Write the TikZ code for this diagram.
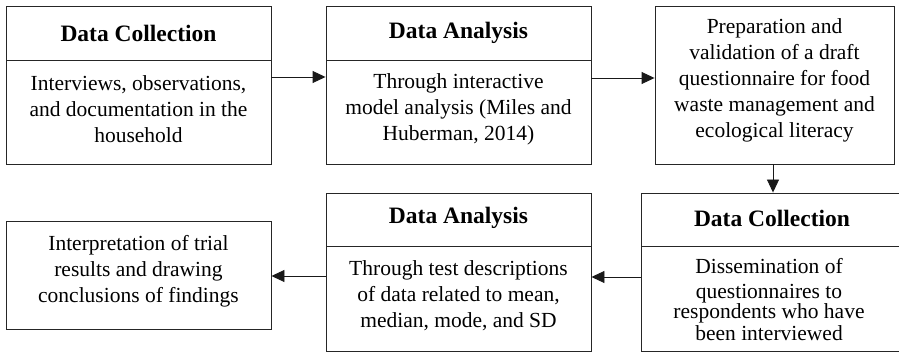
\documentclass[tikz,border=0pt]{standalone}
\usepackage{fontspec}
\setmainfont{Liberation Serif}
\usetikzlibrary{arrows.meta}
\begin{document}
\begin{tikzpicture}[x=1pt,y=-1pt,
  box/.style={draw=black!85,line width=0.9pt,rectangle,inner sep=0pt,minimum width=265pt},
  ttl/.style={font=\fontsize{23.5}{28}\selectfont\bfseries,inner sep=0pt},
  body/.style={font=\fontsize{21.5}{26}\selectfont,align=center,inner sep=0pt},
  div/.style={draw=black!85,line width=0.9pt},
  arr/.style={draw=black!90,line width=0.9pt,-{Triangle[length=13pt,width=12pt]}}]
\useasboundingbox (0,0) rectangle (899,352);
\clip (0,0) rectangle (899,352);
% top row
\node[box,minimum height=158pt] (b1) at (138.5,85) {};
\node[box,minimum height=158pt] (b2) at (458.5,85) {};
\node[box,minimum height=158pt,minimum width=239pt] (b3) at (774.5,85) {};
\draw[div] (6,60) coordinate (d1a) -- (271,60) coordinate (d1b);
\draw[div] (326,60) coordinate (d2a) -- (591,60) coordinate (d2b);
\node[ttl] (t1) at (138.5,33) {Data Collection};
\node[ttl] (t2) at (458.5,33) {Data Analysis};
\node[body] (x1) at (138.5,109) {Interviews, observations,\\and documentation in the\\household};
\node[body] (x2) at (458.5,109) {Through interactive\\model analysis (Miles and\\Huberman, 2014)};
\node[body] (x3) at (774.5,80) {Preparation and\\validation of a draft\\questionnaire for food\\waste management and\\ecological literacy};
% bottom row
\node[box,minimum height=158pt,minimum width=262pt] (b4) at (772,272) {};
\node[box,minimum height=158pt] (b5) at (458.5,272) {};
\node[box,minimum height=108pt] (b6) at (138.5,275) {};
\draw[div] (326,246) coordinate (d5a) -- (591,246) coordinate (d5b);
\draw[div] (641,246) coordinate (d4a) -- (903,246) coordinate (d4b);
\node[ttl] (t4) at (772,218) {Data Collection};
\node[ttl] (t5) at (458.5,218) {Data Analysis};
\node[body] (x4) at (769,300) {Dissemination of\\[-1pt]questionnaires to\\[-6pt]respondents who have\\[-4pt]been interviewed};
\node[body] (x5) at (458.5,296) {Through test descriptions\\of data related to mean,\\median, mode, and SD};
\node[body] (x6) at (138.5,271) {Interpretation of trial\\results and drawing\\conclusions of findings};
% connectors
\draw[arr] ([yshift=8pt]b1.east) -- ([yshift=8pt]b1.east -| b2.west);
\draw[arr] ([yshift=7pt]b2.east) -- ([yshift=7pt]b2.east -| b3.west);
\draw[arr] ([xshift=-1.5pt]b3.south) -- ([xshift=-1.5pt]b3.south |- b4.north);
\draw[arr] ([yshift=-5pt]b4.west) -- ([yshift=-5pt]b4.west -| b5.east);
\draw[arr] ([yshift=-4pt]b5.west) -- ([yshift=-4pt]b5.west -| b6.east);
\end{tikzpicture}
\end{document}
